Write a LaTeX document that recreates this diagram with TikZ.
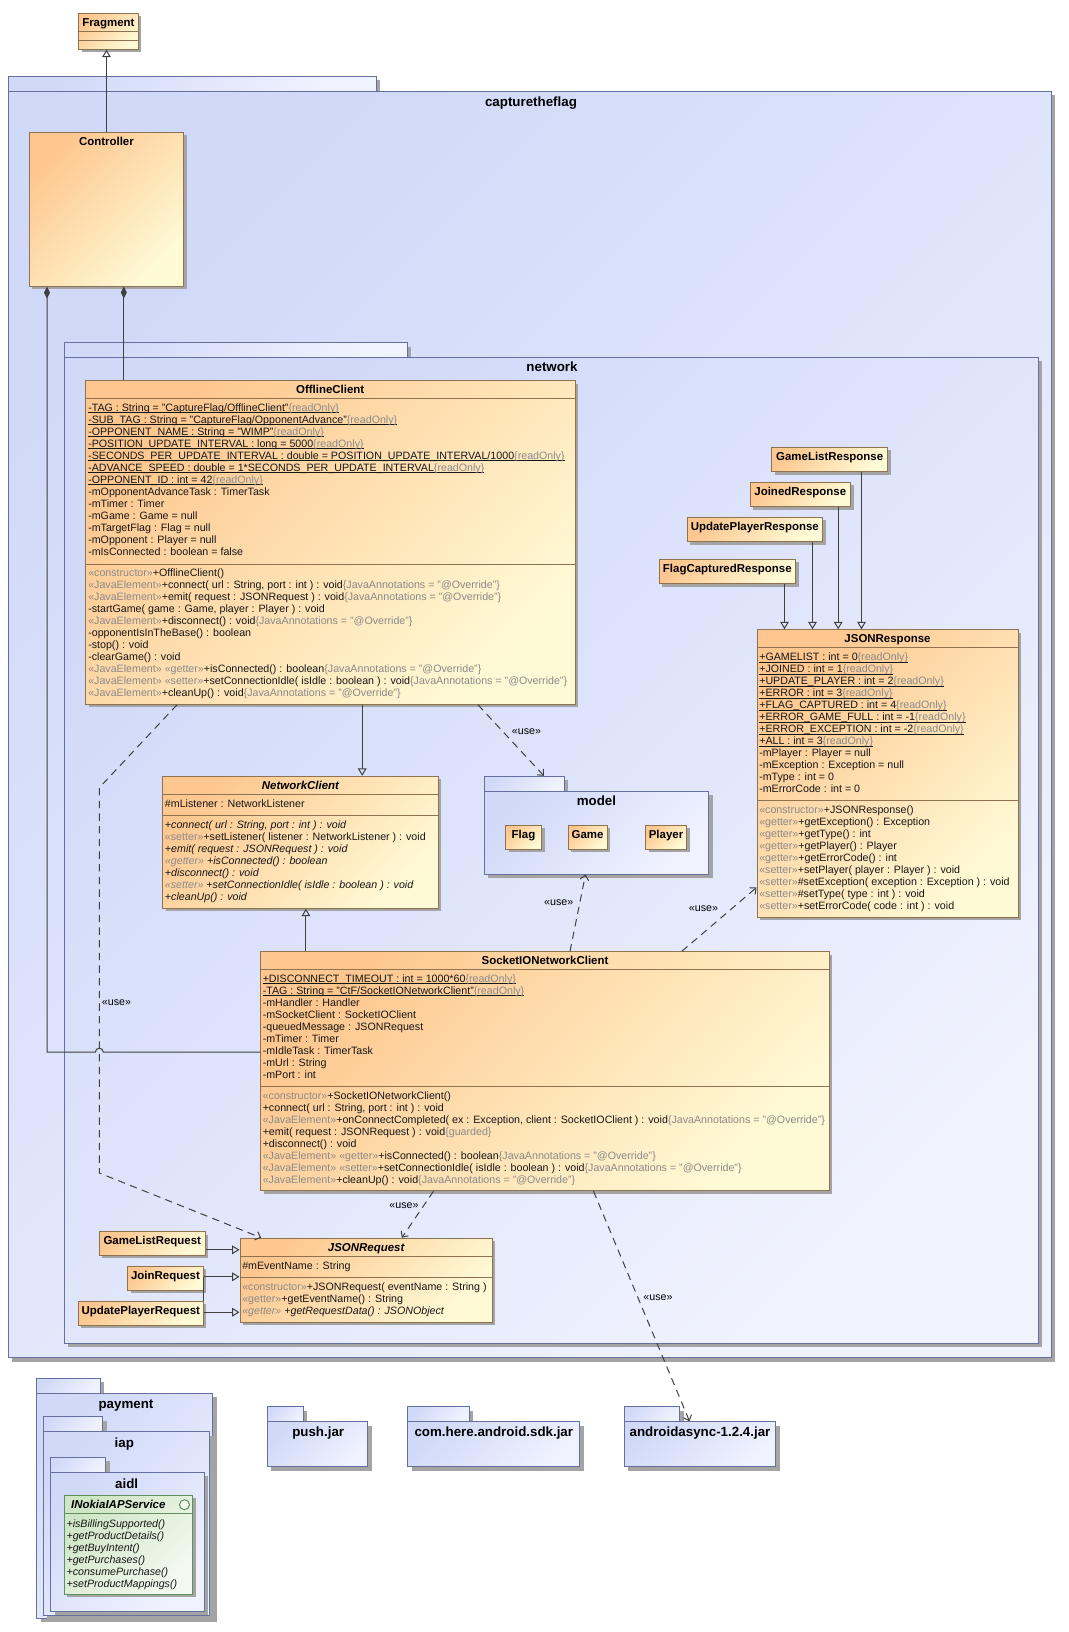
\documentclass[tikz,border=0pt]{standalone}
\usepackage{fontspec}
\setmainfont{Liberation Sans}
\usetikzlibrary{arrows.meta,calc,fit}

\definecolor{pkgA}{HTML}{D0D9F8}
\definecolor{pkgB}{HTML}{F0F2FE}
\definecolor{pkgLine}{HTML}{6670A0}
\definecolor{clsA}{HTML}{FEC78F}
\definecolor{clsB}{HTML}{FFFAD6}
\definecolor{clsLine}{HTML}{8F7250}
\definecolor{ifA}{HTML}{CFE6C6}
\definecolor{ifB}{HTML}{F3F9EF}
\definecolor{ifLine}{HTML}{5E9160}
\definecolor{shadowc}{HTML}{A4A4A4}
\definecolor{wirec}{HTML}{404040}
\definecolor{stereo}{HTML}{8A8A8A}
\definecolor{txtc}{HTML}{161616}

% stereotypes and constraints are set in grey
\newcommand\sg[1]{\textcolor{stereo}{«#1»}}
\newcommand\ro{\textcolor{stereo}{\{readOnly\}}}
\newcommand\ov{\textcolor{stereo}{\{JavaAnnotations = "@Override"\}}}
\newcommand\fst{\rule{0pt}{7pt}}
\newcommand\memberfont{\fontsize{8}{9}\selectfont\lineskiplimit=-20pt\lineskip=0pt\relax}
% static members: a thin rule just under the baseline
\newsavebox\ulinebox
\newcommand\uln[1]{\sbox\ulinebox{#1}\rlap{\rule[-1.2pt]{\wd\ulinebox}{0.45pt}}\usebox\ulinebox}

\tikzset{
  cls/.style={draw=clsLine, line width=0.75pt, inner sep=0pt, top color=clsA, bottom color=clsB, shading angle=45},
  iface/.style={draw=ifLine, line width=0.75pt, inner sep=0pt, top color=ifA, bottom color=ifB, shading angle=45},
  pkg/.style={draw=pkgLine, line width=0.75pt, inner sep=0pt, top color=pkgA, bottom color=pkgB, shading angle=45},
  csep/.style={draw=clsLine, line width=0.75pt},
  isep/.style={draw=ifLine, line width=0.75pt},
  wire/.style={draw=wirec, line width=0.75pt},
  gen/.style={wire, -{Triangle[open, length=5.5pt, width=6.5pt]}},
  comp/.style={wire, {Diamond[length=9pt, width=4.5pt]}-},
  use/.style={wire, dash pattern=on 5.5pt off 4pt, -{Straight Barb[length=3.5pt, width=6.5pt]}},
  cname/.style={anchor=base, inner sep=0pt, text=black, font=\fontsize{8.6}{10}\selectfont\bfseries},
  pname/.style={anchor=base, inner sep=0pt, text=black, font=\fontsize{10}{12}\selectfont\bfseries},
  members/.style={anchor=north west, inner sep=0pt, align=left, text=txtc, font=\memberfont},
  lbl/.style={inner sep=0pt, text=black, font=\fontsize{8}{9}\selectfont},
}

% box with drop shadow: [style]{name}{x1}{y1}{x2}{y2}
\newcommand\umlbox[6][cls]{%
  \fill[shadowc] (#3+3,#4+3) rectangle (#5+3,#6+3);
  \node[#1, fit={(#3,#4)(#5,#6)}] (#2) {};}
% package with tab: [style]{name}{x1}{tab top}{tab right}{body top}{x2}{y2}
\newcommand\pkgbox[8][pkg]{%
  \fill[shadowc] (#3+4,#4+4) rectangle (#5+4,#6+4);
  \fill[shadowc] (#3+4,#6+4) rectangle (#7+4,#8+4);
  \node[#1, fit={(#3,#4)(#5,#6)}] (#2-tab) {};
  \node[#1, fit={(#3,#6)(#7,#8)}] (#2) {};}
\newcommand\csepline[3]{\draw[csep] (#1,#3) -- (#2,#3);}

\begin{document}
\begin{tikzpicture}[x=0.75pt, y=-0.75pt]
\useasboundingbox (0,0) rectangle (1068,1632);

% ---------- Fragment ----------
\umlbox{frag}{78.6}{13.3}{138.2}{49.3}
\csepline{78.6}{138.2}{31.7}
\csepline{78.6}{138.2}{40.3}
\node[cname] (frag-name) at (108.4,26.1) {Fragment};

% ---------- package capturetheflag ----------
\pkgbox{ctf}{8.3}{76}{376}{91}{1051.4}{1357.5}
\node[pname] (ctf-name) at (531,106.3) {capturetheflag};

\umlbox{ctrl}{29.3}{132}{183.6}{286}
\node[cname] (ctrl-name) at (106.4,145.1) {Controller};

% ---------- package network ----------
\pkgbox{net}{64.3}{342.5}{407}{357}{1038}{1343}
\node[pname] (net-name) at (552,371.2) {network};

% OfflineClient
\umlbox{offline}{85.5}{380.7}{575}{704.3}
\node[cname] (offline-name) at (330.2,393.1) {OfflineClient};
\csepline{85.5}{575}{398}
\csepline{85.5}{575}{564}
\node[members] (offline-attr) at (88,401.8) {\fst\uln{-TAG : String = "CaptureFlag/OfflineClient"\ro}\\
\uln{-SUB\_TAG : String = "CaptureFlag/OpponentAdvance"\ro}\\
\uln{-OPPONENT\_NAME : String = "WIMP"\ro}\\
\uln{-POSITION\_UPDATE\_INTERVAL : long = 5000\ro}\\
\uln{-SECONDS\_PER\_UPDATE\_INTERVAL : double = POSITION\_UPDATE\_INTERVAL/1000\ro}\\
\uln{-ADVANCE\_SPEED : double = 1*SECONDS\_PER\_UPDATE\_INTERVAL\ro}\\
\uln{-OPPONENT\_ID : int = 42\ro}\\
-mOpponentAdvanceTask : TimerTask\\
-mTimer : Timer\\
-mGame : Game = null\\
-mTargetFlag : Flag = null\\
-mOpponent : Player = null\\
-mIsConnected : boolean = false};
\node[members] (offline-ops) at (88,567.2) {\fst\sg{constructor}+OfflineClient()\\
\sg{JavaElement}+connect( url : String, port : int ) : void\ov\\
\sg{JavaElement}+emit( request : JSONRequest ) : void\ov\\
-startGame( game : Game, player : Player ) : void\\
\sg{JavaElement}+disconnect() : void\ov\\
-opponentIsInTheBase() : boolean\\
-stop() : void\\
-clearGame() : void\\
\sg{JavaElement} \sg{getter}+isConnected() : boolean\ov\\
\sg{JavaElement} \sg{setter}+setConnectionIdle( isIdle : boolean ) : void\ov\\
\sg{JavaElement}+cleanUp() : void\ov};

% NetworkClient
\umlbox{nc}{162.7}{776.3}{438.3}{908.3}
\node[cname, font=\fontsize{8.6}{10}\selectfont\bfseries\itshape] (nc-name) at (300.5,789.4) {NetworkClient};
\csepline{162.7}{438.3}{794.3}
\csepline{162.7}{438.3}{815.3}
\node[members] (nc-attr) at (164.7,797.8) {\fst\#mListener : NetworkListener};
\node[members] (nc-ops) at (164.7,818.8) {\fst\textit{+connect( url : String, port : int ) : void}\\
\sg{setter}+setListener( listener : NetworkListener ) : void\\
\textit{+emit( request : JSONRequest ) : void}\\
\textit{\sg{getter} +isConnected() : boolean}\\
\textit{+disconnect() : void}\\
\textit{\sg{setter} +setConnectionIdle( isIdle : boolean ) : void}\\
\textit{+cleanUp() : void}};

% package model
\pkgbox{model}{484.4}{776.3}{564.4}{791}{708.7}{874}
\node[pname] (model-name) at (596.4,805.6) {model};
\umlbox{flagC}{505.5}{825.3}{541.5}{849}
\node[cname] (flagC-name) at (523.5,838.4) {Flag};
\umlbox{gameC}{568}{825.3}{607.3}{849}
\node[cname] (gameC-name) at (587.6,838.4) {Game};
\umlbox{playerC}{645.5}{825.3}{686.5}{849}
\node[cname] (playerC-name) at (666,838.4) {Player};

% responses
\umlbox{glR}{771.7}{447}{887.7}{471.7}
\node[cname] (glR-name) at (829.7,460.1) {GameListResponse};
\umlbox{joinR}{750}{482}{850.7}{506.7}
\node[cname] (joinR-name) at (800.3,495.8) {JoinedResponse};
\umlbox{updR}{687}{517}{822.7}{541.7}
\node[cname] (updR-name) at (754.8,530.1) {UpdatePlayerResponse};
\umlbox{flagR}{659}{559}{795.7}{583.7}
\node[cname] (flagR-name) at (727.3,572.4) {FlagCapturedResponse};

% JSONResponse
\umlbox{jresp}{757}{629.7}{1018}{917.3}
\node[cname] (jresp-name) at (887.5,642.1) {JSONResponse};
\csepline{757}{1018}{647.7}
\csepline{757}{1018}{800}
\node[members] (jresp-attr) at (759,651.2) {\fst\uln{+GAMELIST : int = 0\ro}\\
\uln{+JOINED : int = 1\ro}\\
\uln{+UPDATE\_PLAYER : int = 2\ro}\\
\uln{+ERROR : int = 3\ro}\\
\uln{+FLAG\_CAPTURED : int = 4\ro}\\
\uln{+ERROR\_GAME\_FULL : int = -1\ro}\\
\uln{+ERROR\_EXCEPTION : int = -2\ro}\\
\uln{+ALL : int = 3\ro}\\
-mPlayer : Player = null\\
-mException : Exception = null\\
-mType : int = 0\\
-mErrorCode : int = 0};
\node[members] (jresp-ops) at (759,803.5) {\fst\sg{constructor}+JSONResponse()\\
\sg{getter}+getException() : Exception\\
\sg{getter}+getType() : int\\
\sg{getter}+getPlayer() : Player\\
\sg{getter}+getErrorCode() : int\\
\sg{setter}+setPlayer( player : Player ) : void\\
\sg{setter}\#setException( exception : Exception ) : void\\
\sg{setter}\#setType( type : int ) : void\\
\sg{setter}+setErrorCode( code : int ) : void};

% SocketIONetworkClient
\umlbox{sio}{260.5}{951.7}{829.4}{1190.7}
\node[cname] (sio-name) at (545,964.1) {SocketIONetworkClient};
\csepline{260.5}{829.4}{969}
\csepline{260.5}{829.4}{1086}
\node[members] (sio-attr) at (262.5,972.8) {\fst\uln{+DISCONNECT\_TIMEOUT : int = 1000*60\ro}\\
\uln{-TAG : String = "CtF/SocketIONetworkClient"\ro}\\
-mHandler : Handler\\
-mSocketClient : SocketIOClient\\
-queuedMessage : JSONRequest\\
-mTimer : Timer\\
-mIdleTask : TimerTask\\
-mUrl : String\\
-mPort : int};
\node[members] (sio-ops) at (262.5,1089.8) {\fst\sg{constructor}+SocketIONetworkClient()\\
+connect( url : String, port : int ) : void\\
\sg{JavaElement}+onConnectCompleted( ex : Exception, client : SocketIOClient ) : void\ov\\
+emit( request : JSONRequest ) : void\textcolor{stereo}{\{guarded\}}\\
+disconnect() : void\\
\sg{JavaElement} \sg{getter}+isConnected() : boolean\ov\\
\sg{JavaElement} \sg{setter}+setConnectionIdle( isIdle : boolean ) : void\ov\\
\sg{JavaElement}+cleanUp() : void\ov};

% JSONRequest and its subclasses
\umlbox{jreq}{240}{1238.3}{492.3}{1322.3}
\node[cname, font=\fontsize{8.6}{10}\selectfont\bfseries\itshape] (jreq-name) at (366.2,1251.4) {JSONRequest};
\csepline{240}{492.3}{1256.3}
\csepline{240}{492.3}{1277.7}
\node[members] (jreq-attr) at (242,1259.8) {\fst\#mEventName : String};
\node[members] (jreq-ops) at (242,1281.2) {\fst\sg{constructor}+JSONRequest( eventName : String )\\
\sg{getter}+getEventName() : String\\
\textit{\sg{getter} +getRequestData() : JSONObject}};

\umlbox{glReq}{99.3}{1231.7}{205.3}{1255}
\node[cname] (glReq-name) at (152.3,1244.8) {GameListRequest};
\umlbox{joinReq}{127.7}{1266.3}{203.3}{1290}
\node[cname] (joinReq-name) at (165.5,1279.8) {JoinRequest};
\umlbox{upReq}{78.3}{1301.3}{203.3}{1325}
\node[cname] (upReq-name) at (140.8,1314.8) {UpdatePlayerRequest};

% ---------- package payment.iap.aidl ----------
\pkgbox{pay}{36.7}{1378.3}{100}{1393.3}{212.7}{1618.3}
\node[pname] (pay-name) at (126,1408.1) {payment};
\pkgbox{iap}{43.3}{1416.7}{102.7}{1431.7}{209}{1615.3}
\node[pname] (iap-name) at (124.3,1447.1) {iap};
\pkgbox{aidl}{50.7}{1457.3}{105.7}{1472.3}{204.3}{1611.3}
\node[pname] (aidl-name) at (126.7,1488.1) {aidl};
\umlbox[iface]{inokia}{64.3}{1495.3}{192.7}{1594.3}
\node[cname, font=\fontsize{8.6}{10}\selectfont\bfseries\itshape] (inokia-name) at (118.3,1508.8) {INokiaIAPService};
\draw[isep, fill=ifB] (184.5,1504.7) circle[radius=5];
\draw[isep] (64.3,1513.3) -- (192.7,1513.3);
\node[members] (inokia-ops) at (66.3,1517.8) {\fst\textit{+isBillingSupported()}\\
\textit{+getProductDetails()}\\
\textit{+getBuyIntent()}\\
\textit{+getPurchases()}\\
\textit{+consumePurchase()}\\
\textit{+setProductMappings()}};

% ---------- library packages ----------
\pkgbox{push}{267.2}{1406.7}{303.4}{1421.7}{367.8}{1466.7}
\node[pname] (push-name) at (318.2,1436.8) {push.jar};
\pkgbox{here}{407.7}{1406.7}{469.4}{1421.7}{579.5}{1466.7}
\node[pname] (here-name) at (493.8,1436.8) {com.here.android.sdk.jar};
\pkgbox{async}{624.3}{1406.7}{679.8}{1421.7}{775.8}{1466.7}
\node[pname] (async-name) at (700,1436.8) {androidasync-1.2.4.jar};

% ---------- generalisations ----------
\draw[gen] (ctrl.north) -- (ctrl.north |- frag.south);
\draw[gen] ($(offline.south west)+(277.2,0)$) coordinate (oB) -- (oB |- nc.north);
\draw[gen] ($(sio.north west)+(45.9,0)$) coordinate (sA) -- (sA |- nc.south);
\draw[gen] ($(flagR.south west)+(126,0)$) coordinate (r1) -- (r1 |- jresp.north);
\draw[gen] ($(updR.south west)+(126,0)$) coordinate (r2) -- (r2 |- jresp.north);
\draw[gen] ($(joinR.south west)+(88.7,0)$) coordinate (r3) -- (r3 |- jresp.north);
\draw[gen] ($(glR.south west)+(90.3,0)$) coordinate (r4) -- (r4 |- jresp.north);
\draw[gen] ($(glReq.south east)+(0,-5.7)$) coordinate (q1) -- (q1 -| jreq.west);
\draw[gen] ($(joinReq.north east)+(0,11)$) coordinate (q2) -- (q2 -| jreq.west);
\draw[gen] ($(upReq.north east)+(0,11.4)$) coordinate (q3) -- (q3 -| jreq.west);
\draw[wire] (q2) -- (q2 |- upReq.north);

% ---------- compositions ----------
\coordinate (sioIn) at ($(sio.north west)+(0,101)$);
\coordinate (useBend1) at (99.3,787.7);
\coordinate (useBend2) at (99.3,1173);
\draw[comp] ($(ctrl.south west)+(95,0)$) coordinate (cB) -- (cB |- offline.north);
\draw[comp] ($(ctrl.south west)+(18.2,0)$) coordinate (cA) -- (cA |- sioIn)
  -- ($(useBend1 |- sioIn)+(-4,0)$) arc[start angle=180, end angle=360, radius=4] -- (sioIn);

% ---------- dependencies ----------
\draw[use] ($(offline.south west)+(393,0)$) -- ($(model-tab.north west)+(60,0)$);
\draw[use] ($(offline.south west)+(92,0)$) -- (useBend1) -- (useBend2) -- ($(jreq.north west)+(21.7,0)$);
\draw[use] ($(sio.north west)+(310,0)$) -- ($(model.south west)+(101.6,0)$);
\draw[use] ($(sio.north west)+(421.9,0)$) -- ($(jresp.south west)+(0,-30.3)$);
\draw[use] ($(sio.south west)+(173.5,0)$) -- ($(jreq.north west)+(162.3,0)$);
\draw[use] ($(sio.south west)+(333.5,0)$) -- ($(async.north west)+(65.7,0)$);

\node[lbl, anchor=west] (use1) at (511.7,732) {«use»};
\node[lbl, anchor=west] (use2) at (101.7,1002.7) {«use»};
\node[lbl, anchor=east] (use3) at (573.5,903) {«use»};
\node[lbl, anchor=west] (use4) at (688.7,909) {«use»};
\node[lbl] (use5) at (404,1205.7) {«use»};
\node[lbl] (use6) at (658,1298) {«use»};
\end{tikzpicture}
\end{document}
